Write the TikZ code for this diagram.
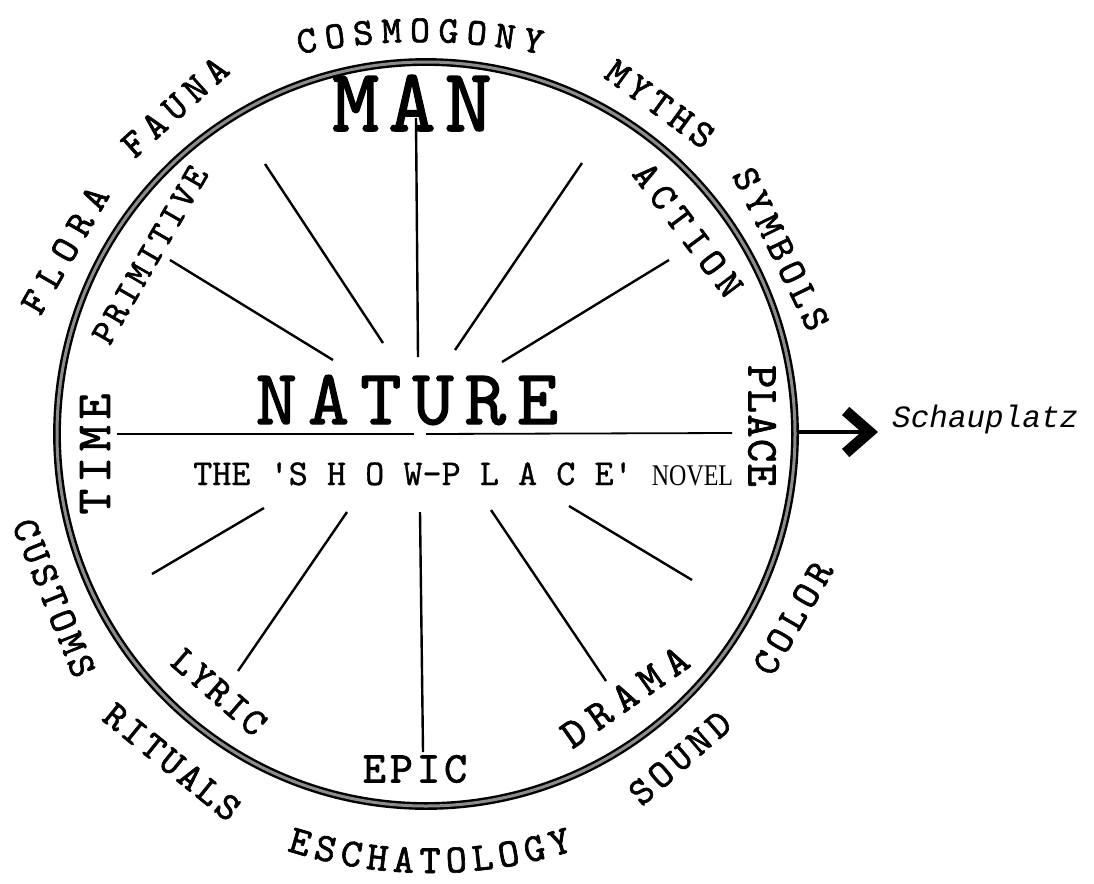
\documentclass[tikz,border=0pt]{standalone}
\usepackage{fontspec}
\usepackage{graphicx}
\usetikzlibrary{arrows.meta,decorations.text}
\newfontfamily\lettering{lmmono10-regular.otf}[FakeBold=1.6]
\newfontfamily\typedfont{lmmono10-regular.otf}[FakeBold=0.8]
\newfontfamily\novelfont{Liberation Serif}
\newfontfamily\schaufont{Liberation Mono}
\makeatletter
\newcommand\spread[2]{\@tfor\spread@c:=#2\do{\spread@c\kern#1}\unkern}
\makeatother

\begin{document}
\begin{tikzpicture}[x=1pt, y=-1pt,
    ring/.style={line width=2.4pt, double=black!45, double distance=3pt},
    spoke/.style={line width=2.4pt},
    word/.style={font=\lettering\fontsize{#1}{#1}\selectfont, inner sep=0pt},
    word/.default=39,
    typed/.style={font=\typedfont\fontsize{36.4}{36.4}\selectfont, inner sep=0pt},
    pointer/.style={line width=3.5pt, -{Straight Barb[length=24pt, width=42pt, line width=11pt]}}]
    \useasboundingbox (0,0) rectangle (1094,883);
    \draw[ring] (426,434) ellipse [x radius=369, y radius=372];
    \foreach \xa/\ya/\xb/\yb in {170/260/333/360, 265/164/383/343, 416/118/418/357,
        582/163/455/350, 669/260/502/362, 152/574/264/508, 238/671/347/512,
        423/752/420/512, 606/681/491/510, 692/580/569/506}
      \draw[spoke] (\xa,\ya) -- (\xb,\yb);
    \draw[line width=1.8pt] (117,434) -- (414,434);
    \draw[line width=1.8pt] (426,434) -- (732,433);

    \node[word=90] (man) at (412,103) {\spread{9pt}{MAN}};
    \node[word=78.6] (nature) at (407,400) {\spread{11pt}{NATURE}};
    \node[typed, anchor=base west] (novel) at (193,485)
      {THE \textquotesingle S H O W-P L A C E\textquotesingle\ {\novelfont\fontsize{30}{30}\selectfont\scalebox{0.8}[1]{NOVEL}}};

    \node[word=36, rotate=60] (primitive) at (150,255) {\spread{3.6pt}{PRIMITIVE}};
    \node[word, rotate=-53] (action) at (688,230) {\spread{7pt}{ACTION}};
    \node[word=44, rotate=-90] (place) at (762,426) {\spread{1.5pt}{PLACE}};
    \node[word=49, rotate=90] (time) at (95,454) {\spread{6pt}{TIME}};
    \node[word, rotate=-41] (lyric) at (219,692) {\spread{2.5pt}{LYRIC}};
    \node[word=44] (epic) at (415,769) {\spread{4pt}{EPIC}};
    \node[word=42, rotate=35] (drama) at (625,697) {\spread{9pt}{DRAMA}};

    \node[word, rotate=60] (flora) at (65,250) {\spread{9.5pt}{FLORA}};
    \node[word, rotate=42] (fauna) at (175,107) {\spread{7pt}{FAUNA}};
    \node[word, rotate=-36] (myths) at (660,104) {\spread{5.5pt}{MYTHS}};
    \node[word, rotate=-64] (symbols) at (781,249) {\spread{5.5pt}{SYMBOLS}};
    \node[word, rotate=60] (color) at (793,618) {\spread{5.5pt}{COLOR}};
    \node[word, rotate=41] (sound) at (680,758) {\spread{5pt}{SOUND}};
    \node[word, rotate=-39] (rituals) at (172,762) {\spread{3.5pt}{RITUALS}};
    \node[word, rotate=-68] (customs) at (54,598) {\spread{4pt}{CUSTOMS}};
    \path[decorate, decoration={text along path, text align=center,
        text={|\lettering\fontsize{38}{38}\selectfont|C{\kern8pt}O{\kern8pt}S{\kern8pt}M{\kern8pt}O{\kern8pt}G{\kern8pt}O{\kern8pt}N{\kern8pt}Y}}]
      (420,642) ++(-107:600) arc (-107:-73:600);
    \path[decorate, decoration={text along path, text align=center,
        text={|\lettering\fontsize{40}{40}\selectfont|E{\kern6pt}S{\kern6pt}C{\kern6pt}H{\kern6pt}A{\kern6pt}T{\kern6pt}O{\kern6pt}L{\kern6pt}O{\kern6pt}G{\kern6pt}Y}}]
      (430,403) ++(-246:470) arc (-246:-294:470);

    \coordinate (ringE) at (797,432);
    \node[font=\schaufont\itshape\fontsize{31}{31}\selectfont, inner sep=0pt, anchor=base west] (schau) at (892,427) {Schauplatz};
    \draw[pointer, shorten >=14pt] (ringE) -- (ringE -| schau.west);
  \end{tikzpicture}
\end{document}
